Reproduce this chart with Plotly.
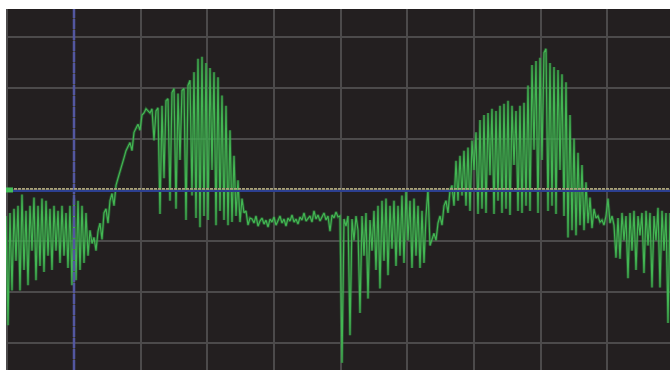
import numpy as np
import plotly.graph_objects as go

# Scope capture: channel 1, 10 ms/div, 50 mV/div, sampled every 0.3 ms
T0_MS = -10.2
DT_MS = 0.3

# Samples in mV, split by stretch of the record
seg_idle = [-25, -132, -22, -98, -18, -69, -15, -98, -4, -78,
            -20, -93, -15, -59, -7, -88, -15, -74, -8, -80,
            -10, -64, -18, -78, -15, -59, -20, -71, -15, -64,
            -22, -76, -15, -93, -8, -88, -10, -78, -15, -71,
            -22, -64, -39]
seg_rise1 = [-52, -46, -59, -40, -32, -48, -22, -18, -32, -10,
             -3, -15, 5, 12, 18, 25, 32, 39, 43, 47,
             39, 57, 61, 65, 59, 74, 76, 80]
seg_burst1 = [78, 76, 80, 49, 78, 81, -23, 83, 12, 88,
              90, -10, 96, 100, -18, 95, 30, 98, 100, -29,
              103, 108, -5, 116, -27, 129, -36, 131, -25, 125,
              -29, 120, 20, 116, -34, 111, -20, 93, -29, 83,
              -34, 59, -31, 34, -25, 10, -31, -8, -22, -20,
              -34, -27]
seg_quiet = [-28, -32, -25, -35, -30, -27, -33, -29, -36, -28,
             -31, -26, -34, -30, -25, -32, -28, -35, -27, -30,
             -24, -31, -28, -33, -26, -29, -22, -30, -27, -25,
             -31, -20, -28, -24, -30, -26, -22, -29, -25, -40,
             -24, -27, -21, -26]
seg_dips = [-25, -169, -28, -35, -25, -142, -28, -49, -25, -39,
            -120, -25, -64, -22, -106, -29, -59, -20, -78, -15,
            -96, -10, -69, -8, -83, -15, -57, -10, -74, -15,
            -64, -5, -71, 0, -49, -10, -76, -8, -64, -15,
            -76, -20, -71, -25, 2, -54]
seg_burst2 = [-49, -42, -49, -32, -25, -34, -15, -10, -22, 0,
              5, -15, 29, -10, 34, -5, 39, -15, 42, -20,
              49, 20, 57, -23, 69, -18, 74, -22, 76, 15,
              80, -23, 78, -10, 83, -22, 85, -18, 88, -24,
              83, 25, 78, -20, 83, -22, 86, -15, 103, -20,
              123, 40, 127, -22, 130, 30, 135, 139, -20, 125,
              -15, 121, -23, 118, 20, 114, -25, 106, -46, 74,
              -39, 51, -44, 37, -34, 25, -39, 8, -32, -7,
              -37, -18, -27, -25, -31]
seg_tail = [-29, -34, -25, -8, -32, -25, -34, -66, -27, -67,
            -22, -49, -25, -86, -22, -59, -20, -78, -25, -44,
            -22, -81, -20, -54, -22, -95, -25, -49, -17, -95,
            -20, -59, -22, -130, -22]

ch1_mv = seg_idle + seg_rise1 + seg_burst1 + seg_quiet + seg_dips + seg_burst2 + seg_tail
t_ms = T0_MS + DT_MS * np.arange(len(ch1_mv))

BG = "#231f20"
GRID = "#4c4a4b"

fig = go.Figure()
# soft glow under the trace
fig.add_trace(go.Scatter(x=t_ms, y=ch1_mv, mode="lines",
                         line=dict(color="rgba(46,140,62,0.45)", width=3),
                         hoverinfo="skip", showlegend=False))
fig.add_trace(go.Scatter(x=t_ms, y=ch1_mv, mode="lines",
                         line=dict(color="#43b653", width=1.2),
                         name="CH1", showlegend=False))

# trigger-time cursor
fig.add_shape(type="line", xref="x", yref="paper", x0=0, x1=0, y0=0, y1=1,
              line=dict(color="#5357a0", width=2.5, dash="10px,1px"), layer="above")
# channel 1 ground reference
fig.add_shape(type="line", xref="paper", yref="y", x0=0, x1=1, y0=1.6, y1=1.6,
              line=dict(color="#a9a27a", width=1.8, dash="3px,1px"), layer="above")
fig.add_shape(type="line", xref="paper", yref="y", x0=0, x1=1, y0=-0.5, y1=-0.5,
              line=dict(color="#2c3f90", width=2), layer="above")
# channel 1 marker at the left edge
fig.add_shape(type="rect", xref="paper", yref="y", xsizemode="pixel", ysizemode="pixel",
              xanchor=0, yanchor=0.5, x0=0, x1=7, y0=-2.5, y1=2.5,
              fillcolor="#44c05a", line=dict(width=0), layer="above")

fig.update_layout(
    width=670, height=370,
    margin=dict(l=6, r=0, t=9, b=0),
    paper_bgcolor="#ffffff",
    plot_bgcolor=BG,
    showlegend=False,
)
fig.update_xaxes(range=[-10.2, 89.4], tick0=0, dtick=10, showticklabels=False,
                 showgrid=True, gridcolor=GRID, gridwidth=2, zeroline=False,
                 showline=False, ticks="")
fig.update_yaxes(range=[-176, 177.9], tick0=0, dtick=50, showticklabels=False,
                 showgrid=True, gridcolor=GRID, gridwidth=2, zeroline=False,
                 showline=False, ticks="")

fig.write_html("out.html")
